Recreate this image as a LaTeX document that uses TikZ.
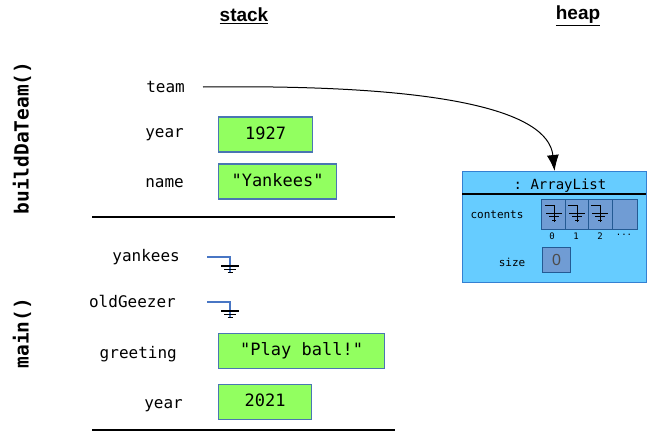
\documentclass[tikz,border=0pt]{standalone}
\usepackage{fontspec}
\setmonofont{DejaVu Sans Mono}
\setsansfont{Liberation Sans}
\usetikzlibrary{arrows.meta}
\definecolor{valgreen}{RGB}{146,255,96}
\definecolor{valedge}{RGB}{74,118,178}
\definecolor{heapblue}{RGB}{102,204,255}
\definecolor{heapedge}{RGB}{52,128,210}
\definecolor{cellblue}{RGB}{112,156,212}
\definecolor{refblue}{RGB}{72,118,196}

\tikzset{
  ground/.pic={
    \draw[black,line width=1.1] (-9,0) -- (9,0);
    \draw[black,line width=1.1] (-6,3.5) -- (6,3.5);
    \draw[black,line width=1.1] (-2.5,6.5) -- (2.5,6.5);
  },
  cellnull/.pic={
    \draw[black,line width=1] (-9,0) -- (0,0) -- (0,17);
    \draw[black,line width=1] (-8,8) -- (8,8);
    \draw[black,line width=1] (-5,11.5) -- (5,11.5);
    \draw[black,line width=1] (-2,15) -- (2,15);
  }
}

\begin{document}
\begin{tikzpicture}[x=1pt,y=-1pt,
  heading/.style={font=\sffamily\bfseries\fontsize{19}{21}\selectfont},
  frame name/.style={rotate=90,font=\ttfamily\bfseries\fontsize{19.5}{22}\selectfont},
  var/.style={anchor=east,inner sep=0pt,text height=8,text depth=0,
    font=\ttfamily\fontsize{16}{18}\selectfont},
  val/.style={anchor=west,draw=valedge,fill=valgreen,line width=1.2,
    minimum height=35,inner sep=0pt,text height=12,text depth=3,
    font=\ttfamily\fontsize{17}{20}\selectfont},
  cell/.style={anchor=north west,draw=heapedge!70!black,fill=cellblue,line width=1,
    minimum height=30,inner sep=0pt},
  idx/.style={font=\ttfamily\fontsize{9}{10}\selectfont,inner sep=0pt},
  heaptext/.style={font=\ttfamily\fontsize{11}{13}\selectfont,inner sep=0pt}]

  \useasboundingbox (0,0) rectangle (649,431);

  % headings
  \node[heading] (stack) at (244,16) {\underline{stack}};
  \node[heading] (heap) at (578,16) {\underline{heap}};

  % frames
  \node[frame name] (buildfn) at (22,138) {buildDaTeam()};
  \node[frame name] (mainfn) at (22,333) {main()};

  % buildDaTeam() frame
  \node[var] (team) at (185,88) {team};
  \node[var] (year1) at (184,133) {year};
  \node[var] (name) at (184,183) {name};
  \node[val,minimum width=94] (v1927) at (218,134.5) {1927};
  \node[val,minimum width=118] (vyank) at (218,181.5) {"Yankees"};
  \draw[line width=1.2] (92,217) -- (395,217);

  % main() frame
  \node[var] (yankees) at (180,257) {yankees};
  \node[var] (geezer) at (176,303) {oldGeezer};
  \node[var] (greeting) at (177,354) {greeting};
  \node[var] (year2) at (183,404) {year};
  \node[val,minimum width=166] (vball) at (218,351) {"Play ball!"};
  \node[val,minimum width=93] (v2021) at (218,402) {2021};
  \draw[line width=1.2] (92,430) -- (395,430);

  % null references
  \coordinate (yknull) at (207,257);
  \coordinate (ogull) at (207,302);
  \draw[refblue,line width=1.2] (yknull) -- ++(23,0) -- ++(0,16);
  \pic at (230,266) {ground};
  \draw[refblue,line width=1.2] (ogull) -- ++(23,0) -- ++(0,16);
  \pic at (230,311) {ground};

  % heap object
  \node[anchor=north west,draw=heapedge,fill=heapblue,line width=1.2,
    minimum width=184,minimum height=111,inner sep=0pt] (list) at (462,171) {};
  \node[font=\ttfamily\fontsize{14}{16}\selectfont,inner sep=0pt] (ltitle) at (560,186) {: ArrayList};
  \draw[line width=1.2] (462,194) -- (646,194);
  \node[heaptext] (contents) at (497,215) {contents};
  \node[cell,minimum width=24] (c0) at (541,199) {};
  \node[cell,minimum width=23] (c1) at (565,199) {};
  \node[cell,minimum width=24] (c2) at (588,199) {};
  \node[cell,minimum width=25] (c3) at (612,199) {};
  \pic at (554,205) {cellnull};
  \pic at (577,205) {cellnull};
  \pic at (600,205) {cellnull};
  \node[idx] (i0) at (552,236) {0};
  \node[idx] (i1) at (576,236) {1};
  \node[idx] (i2) at (600,236) {2};
  \node[idx] (idots) at (624,235) {...};
  \node[heaptext] (size) at (512,262) {size};
  \node[cell,minimum width=28,minimum height=25,
    font=\sffamily\fontsize{16}{18}\selectfont,text=black!70] (vsize) at (542,247) {0};

  % reference arrow
  \coordinate (teamref) at (203,87);
  \draw[line width=1,-{Latex[length=16,width=12]}] (teamref)
    .. controls (440,84) and (548,110) .. (list.north);
\end{tikzpicture}
\end{document}
